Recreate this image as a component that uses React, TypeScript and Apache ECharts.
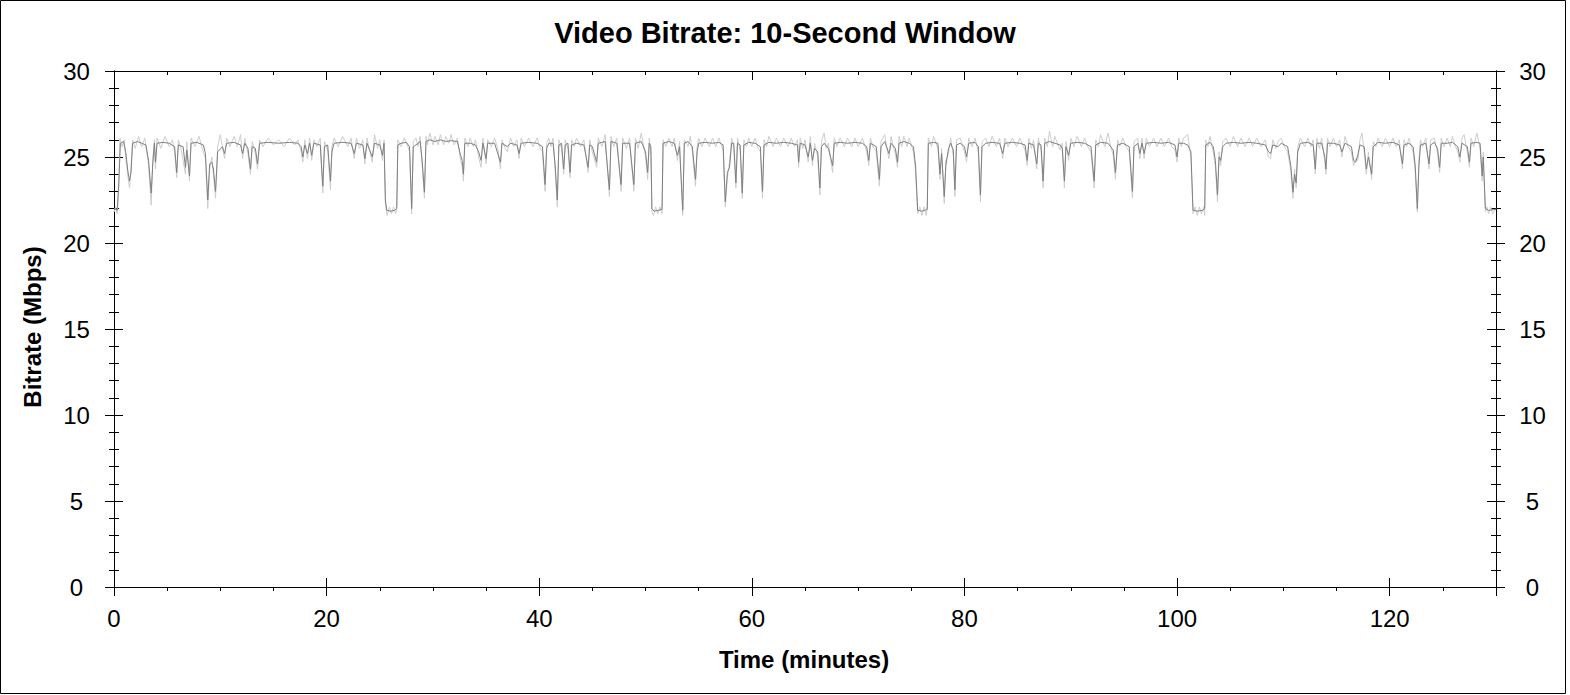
import React, { useEffect, useRef } from "react";
import * as echarts from "echarts";

// Time (minutes), bitrate (Mbps) – smoothed trace
const smoothPts: [number, number][] = [
  [0, 22.0], [0.3, 21.9], [0.45, 23.5], [0.6, 25.8], [0.9, 25.9], [1.1, 25.3], [1.3, 24.2], [1.46, 23.6], [1.6, 24.1], [1.75, 25.8],
  [2.2, 25.9], [2.6, 25.8], [3.0, 25.7], [3.25, 24.8], [3.5, 22.9], [3.65, 24.6], [3.8, 25.8], [3.9, 24.7], [4.05, 25.8], [4.6, 25.85],
  [5.2, 25.8], [5.7, 25.6], [5.9, 24.1], [6.05, 25.7], [6.5, 25.6], [6.72, 24.4], [6.85, 25.4], [7.1, 23.9], [7.25, 25.8], [7.8, 25.85],
  [8.4, 25.7], [8.6, 25.2], [8.82, 22.5], [9.0, 24.6], [9.2, 24.7], [9.35, 24.3], [9.55, 23.0], [9.75, 25.3], [10.2, 25.6], [10.4, 25.2],
  [10.6, 25.8], [11.3, 25.85], [11.9, 25.7], [12.1, 25.2], [12.3, 25.8], [12.6, 25.5], [12.84, 24.3], [13.0, 25.6], [13.3, 25.5], [13.5, 24.6],
  [13.7, 25.8], [14.5, 25.85], [15.5, 25.8], [16.5, 25.85], [17.3, 25.8], [17.6, 25.6], [17.76, 25.0], [17.95, 25.7], [18.2, 25.2], [18.4, 25.8],
  [18.6, 25.1], [18.8, 25.8], [19.4, 25.7], [19.64, 23.3], [19.8, 25.6], [20.1, 25.7], [20.36, 23.6], [20.5, 25.3], [20.7, 25.8], [21.5, 25.85],
  [22.3, 25.8], [22.6, 25.2], [22.8, 25.8], [23.4, 25.7], [23.6, 24.9], [23.8, 25.8], [24.3, 25.0], [24.5, 25.8], [25.0, 25.7], [25.25, 25.1],
  [25.4, 25.8], [25.53, 22.5], [25.66, 21.9], [26.0, 21.85], [26.4, 21.9], [26.6, 22.0], [26.7, 25.7], [27.0, 25.8], [27.5, 25.85], [27.8, 25.6],
  [28.0, 22.0], [28.15, 25.6], [28.4, 25.7], [28.8, 25.9], [29.0, 24.7], [29.2, 22.95], [29.35, 25.9], [29.7, 26.0], [30.2, 25.9], [30.7, 26.0],
  [31.2, 25.9], [31.7, 25.95], [32.3, 25.9], [32.6, 25.1], [32.75, 24.8], [32.87, 24.0], [33.0, 25.8], [33.5, 25.8], [34.0, 25.7], [34.3, 25.3],
  [34.53, 24.8], [34.7, 25.8], [35.0, 24.9], [35.15, 25.8], [35.8, 25.8], [36.35, 24.7], [36.5, 25.8], [37.0, 25.6], [37.3, 25.8], [37.9, 25.7],
  [38.1, 25.2], [38.3, 25.8], [39.0, 25.85], [39.8, 25.8], [40.3, 25.6], [40.55, 23.4], [40.7, 25.5], [40.9, 25.8], [41.3, 25.8], [41.5, 24.5],
  [41.7, 22.5], [41.85, 25.7], [42.1, 25.8], [42.3, 24.3], [42.45, 25.7], [42.7, 25.8], [42.9, 24.1], [43.05, 25.7], [43.5, 25.8], [44.2, 25.7],
  [44.6, 24.4], [44.75, 25.7], [45.0, 25.6], [45.4, 24.7], [45.55, 25.8], [46.2, 25.9], [46.6, 23.1], [46.75, 25.9], [47.3, 25.8], [47.7, 23.4],
  [47.85, 25.8], [48.5, 25.8], [48.9, 23.4], [49.05, 25.8], [49.6, 25.9], [50.0, 25.3], [50.2, 24.1], [50.35, 25.8], [50.5, 25.6], [50.6, 22.0],
  [50.8, 21.85], [51.2, 21.9], [51.55, 21.95], [51.65, 25.8], [52.2, 25.9], [52.7, 25.8], [53.0, 25.1], [53.2, 25.6], [53.5, 21.9], [53.65, 25.8],
  [54.0, 25.9], [54.4, 25.6], [54.7, 23.7], [54.85, 25.3], [55.0, 25.8], [55.6, 25.85], [56.3, 25.8], [56.9, 25.85], [57.3, 25.7], [57.5, 22.4],
  [57.7, 24.1], [57.9, 24.4], [58.1, 25.8], [58.3, 25.8], [58.5, 23.5], [58.65, 25.8], [58.9, 25.7], [59.1, 22.9], [59.25, 25.7], [59.7, 25.85],
  [60.3, 25.8], [60.8, 25.6], [61.0, 23.0], [61.15, 25.7], [61.6, 25.85], [62.3, 25.8], [63.0, 25.85], [63.7, 25.8], [64.3, 25.7], [64.4, 24.7],
  [64.55, 25.8], [65.0, 25.7], [65.3, 25.0], [65.5, 25.8], [65.7, 24.8], [65.9, 25.5], [66.2, 25.3], [66.4, 23.2], [66.55, 25.6], [66.8, 25.8],
  [67.2, 25.5], [67.6, 24.5], [67.75, 25.8], [68.3, 25.85], [69.0, 25.8], [69.7, 25.85], [70.4, 25.8], [70.8, 25.6], [71.0, 24.8], [71.15, 25.8],
  [71.7, 25.6], [72.0, 23.7], [72.15, 25.6], [72.5, 25.9], [72.9, 25.2], [73.1, 25.8], [73.5, 25.5], [73.7, 24.7], [73.85, 25.8], [74.3, 25.9],
  [74.8, 25.8], [75.2, 25.6], [75.4, 24.5], [75.6, 21.9], [76.0, 21.85], [76.5, 21.95], [76.6, 25.8], [77.1, 25.85], [77.5, 25.8], [77.7, 24.0],
  [77.85, 25.2], [78.1, 22.7], [78.25, 24.5], [78.5, 25.5], [78.7, 25.8], [78.95, 25.4], [79.1, 23.1], [79.25, 25.7], [79.6, 25.8], [80.0, 25.6],
  [80.2, 25.0], [80.4, 25.8], [81.0, 25.85], [81.3, 25.6], [81.5, 22.8], [81.65, 25.6], [82.0, 25.8], [82.6, 25.85], [83.3, 25.8], [83.6, 25.2],
  [83.8, 25.8], [84.5, 25.85], [85.2, 25.8], [85.7, 25.7], [85.9, 24.8], [86.05, 25.8], [86.5, 25.7], [86.8, 24.6], [86.95, 25.8], [87.2, 25.7],
  [87.4, 23.6], [87.55, 25.8], [88.0, 25.9], [88.5, 25.8], [89.0, 25.7], [89.2, 25.5], [89.4, 23.6], [89.55, 25.6], [89.8, 25.1], [90.0, 25.8],
  [90.6, 25.85], [91.3, 25.8], [91.9, 25.6], [92.2, 23.6], [92.35, 25.7], [92.8, 25.85], [93.5, 25.8], [94.0, 25.4], [94.2, 24.1], [94.4, 25.7],
  [94.9, 25.8], [95.5, 25.6], [95.8, 23.0], [95.95, 25.6], [96.3, 25.8], [96.5, 25.2], [96.7, 25.8], [96.9, 25.2], [97.1, 25.8], [97.8, 25.85],
  [98.5, 25.8], [99.2, 25.85], [99.8, 25.7], [100.0, 25.0], [100.15, 25.8], [100.6, 25.8], [101.0, 25.7], [101.3, 25.3], [101.5, 21.9], [101.9, 21.85],
  [102.4, 21.9], [102.6, 22.0], [102.7, 25.7], [103.1, 25.85], [103.4, 25.6], [103.6, 24.8], [103.8, 22.8], [103.95, 25.0], [104.1, 24.8], [104.3, 25.6],
  [104.6, 25.8], [105.3, 25.85], [106.0, 25.8], [106.8, 25.85], [107.5, 25.8], [108.3, 25.7], [108.6, 25.3], [108.8, 25.2], [109.0, 25.7], [109.5, 25.6],
  [109.8, 25.8], [110.4, 25.6], [110.7, 24.5], [110.9, 22.95], [111.05, 24.0], [111.2, 23.5], [111.35, 25.3], [111.6, 25.8], [112.3, 25.85], [112.8, 25.7],
  [113.0, 24.3], [113.15, 25.8], [113.6, 25.8], [113.9, 25.0], [114.0, 24.3], [114.15, 25.8], [114.7, 25.8], [115.3, 25.7], [115.5, 25.3], [115.8, 25.8],
  [116.4, 25.6], [116.6, 24.8], [116.8, 24.7], [117.0, 25.1], [117.2, 25.7], [117.6, 25.6], [117.8, 24.3], [118.0, 25.0], [118.3, 24.0], [118.45, 25.6],
  [118.9, 25.85], [119.6, 25.8], [120.3, 25.85], [120.9, 25.7], [121.2, 24.6], [121.35, 25.7], [121.8, 25.8], [122.2, 25.6], [122.4, 24.5], [122.6, 22.0],
  [122.75, 24.5], [122.9, 25.7], [123.4, 25.8], [123.7, 24.6], [123.85, 25.7], [124.2, 25.85], [124.5, 25.5], [124.7, 24.4], [124.85, 25.8], [125.4, 25.8],
  [125.9, 25.85], [126.4, 25.6], [126.6, 25.0], [126.8, 25.8], [127.3, 25.6], [127.5, 24.7], [127.65, 25.8], [128.2, 25.85], [128.5, 25.8], [128.7, 23.9],
  [128.8, 25.0], [129.0, 22.0], [129.3, 21.9], [130.0, 21.95],
];

// Time (minutes), bitrate (Mbps) – raw trace (light)
const rawPts: [number, number][] = [
  [0, 21.8], [0.15, 22.1], [0.3, 21.7], [0.45, 23.0], [0.55, 26.1], [0.75, 25.6], [0.95, 26.0], [1.1, 25.0], [1.3, 23.9], [1.46, 23.2],
  [1.6, 24.4], [1.75, 26.0], [2.0, 25.5], [2.3, 26.2], [2.6, 25.6], [2.9, 26.1], [3.25, 24.5], [3.5, 22.2], [3.65, 24.9], [3.8, 26.0],
  [3.9, 24.3], [4.05, 26.1], [4.4, 25.5], [4.8, 26.2], [5.2, 25.6], [5.5, 26.0], [5.7, 25.3], [5.9, 23.8], [6.05, 26.0], [6.3, 25.5],
  [6.72, 24.0], [6.85, 25.9], [7.1, 23.6], [7.25, 26.1], [7.6, 25.6], [8.0, 26.2], [8.3, 25.5], [8.6, 24.9], [8.82, 22.0], [9.0, 24.3],
  [9.2, 25.0], [9.35, 24.0], [9.55, 22.6], [9.75, 25.6], [10.0, 26.3], [10.4, 24.9], [10.6, 26.1], [10.9, 25.6], [11.3, 26.2], [11.6, 25.6],
  [11.9, 26.3], [12.1, 24.9], [12.3, 26.1], [12.6, 25.2], [12.84, 24.0], [13.0, 25.9], [13.3, 25.2], [13.5, 24.3], [13.7, 26.0], [14.0, 25.6],
  [14.5, 26.1], [15.0, 25.7], [15.5, 26.0], [16.0, 25.6], [16.5, 26.1], [17.0, 25.7], [17.3, 26.0], [17.6, 25.3], [17.76, 24.7], [17.95, 26.0],
  [18.2, 24.9], [18.4, 26.1], [18.6, 24.8], [18.8, 26.0], [19.1, 25.6], [19.4, 26.1], [19.64, 22.9], [19.8, 25.9], [20.1, 25.4], [20.36, 23.1],
  [20.5, 25.6], [20.7, 26.1], [21.1, 25.6], [21.5, 26.2], [22.0, 25.6], [22.3, 26.1], [22.6, 24.9], [22.8, 26.1], [23.1, 25.5], [23.4, 26.0],
  [23.6, 24.6], [23.8, 26.1], [24.0, 25.5], [24.3, 24.7], [24.5, 26.3], [24.8, 25.5], [25.0, 26.0], [25.25, 24.8], [25.4, 26.0], [25.53, 22.2],
  [25.7, 21.6], [25.9, 22.1], [26.1, 21.7], [26.3, 22.1], [26.5, 21.7], [26.6, 22.2], [26.7, 26.0], [27.0, 25.6], [27.3, 26.1], [27.6, 25.7],
  [27.8, 25.3], [28.0, 21.7], [28.15, 25.9], [28.4, 26.1], [28.6, 25.6], [28.8, 26.2], [29.0, 24.4], [29.2, 22.6], [29.35, 26.2], [29.5, 25.7],
  [29.7, 26.4], [30.0, 25.7], [30.2, 26.2], [30.5, 25.7], [30.7, 26.3], [31.0, 25.7], [31.2, 26.2], [31.5, 25.8], [31.7, 26.3], [32.0, 25.7],
  [32.3, 26.1], [32.6, 24.8], [32.75, 24.5], [32.87, 23.6], [33.0, 26.1], [33.3, 25.6], [33.5, 26.1], [33.8, 25.6], [34.0, 26.0], [34.3, 25.0],
  [34.53, 24.4], [34.7, 26.1], [35.0, 24.6], [35.15, 26.0], [35.5, 25.6], [35.8, 26.1], [36.1, 25.5], [36.35, 24.3], [36.5, 26.0], [36.8, 25.5],
  [37.0, 25.3], [37.3, 26.1], [37.6, 25.6], [37.9, 26.0], [38.1, 24.9], [38.3, 26.1], [38.6, 25.6], [39.0, 26.1], [39.4, 25.6], [39.8, 26.1],
  [40.1, 25.5], [40.3, 25.3], [40.55, 23.0], [40.7, 25.8], [40.9, 26.1], [41.1, 25.6], [41.3, 26.1], [41.5, 24.2], [41.7, 22.1], [41.85, 26.0],
  [42.1, 25.5], [42.3, 24.0], [42.45, 26.0], [42.7, 25.5], [42.9, 23.8], [43.05, 26.0], [43.3, 25.6], [43.5, 26.1], [43.9, 25.6], [44.2, 26.0],
  [44.6, 24.1], [44.75, 26.0], [45.0, 25.3], [45.4, 24.4], [45.55, 26.1], [45.9, 25.6], [46.2, 26.3], [46.6, 22.7], [46.75, 26.2], [47.0, 25.6],
  [47.3, 26.1], [47.7, 23.0], [47.85, 26.1], [48.2, 25.5], [48.5, 26.1], [48.9, 23.0], [49.05, 26.1], [49.3, 25.5], [49.6, 26.4], [50.0, 25.0],
  [50.2, 23.7], [50.35, 26.1], [50.5, 25.3], [50.6, 21.8], [50.75, 21.6], [50.95, 22.1], [51.15, 21.7], [51.35, 22.1], [51.55, 21.7], [51.65, 26.0],
  [51.9, 25.6], [52.2, 26.1], [52.5, 25.6], [52.7, 26.1], [53.0, 24.8], [53.2, 25.9], [53.5, 21.6], [53.65, 26.0], [54.0, 25.6], [54.2, 26.2],
  [54.4, 25.3], [54.7, 23.3], [54.85, 25.6], [55.0, 26.1], [55.3, 25.6], [55.6, 26.1], [56.0, 25.6], [56.3, 26.1], [56.6, 25.6], [56.9, 26.1],
  [57.3, 25.4], [57.5, 22.1], [57.7, 23.8], [57.9, 24.7], [58.1, 26.1], [58.3, 25.5], [58.5, 23.2], [58.65, 26.1], [58.9, 25.4], [59.1, 22.6],
  [59.25, 26.0], [59.5, 25.6], [59.7, 26.1], [60.0, 25.6], [60.3, 26.1], [60.6, 25.5], [60.8, 25.3], [61.0, 22.6], [61.15, 26.0], [61.4, 25.6],
  [61.6, 26.2], [62.0, 25.6], [62.3, 26.1], [62.7, 25.6], [63.0, 26.1], [63.4, 25.6], [63.7, 26.1], [64.0, 25.6], [64.3, 26.0], [64.4, 24.4],
  [64.55, 26.1], [64.8, 25.5], [65.0, 26.0], [65.3, 24.7], [65.5, 26.2], [65.7, 24.5], [65.9, 25.8], [66.2, 25.0], [66.4, 22.8], [66.55, 25.9],
  [66.8, 26.4], [67.0, 25.5], [67.2, 25.8], [67.6, 24.1], [67.75, 26.1], [68.0, 25.6], [68.3, 26.1], [68.7, 25.6], [69.0, 26.1], [69.4, 25.6],
  [69.7, 26.1], [70.0, 25.6], [70.4, 26.1], [70.8, 25.3], [71.0, 24.5], [71.15, 26.1], [71.4, 25.6], [71.7, 25.3], [72.0, 23.3], [72.15, 25.9],
  [72.5, 26.3], [72.7, 25.5], [72.9, 24.9], [73.1, 26.2], [73.3, 25.6], [73.5, 25.2], [73.7, 24.4], [73.85, 26.2], [74.1, 25.6], [74.3, 26.2],
  [74.6, 25.6], [74.8, 26.1], [75.2, 25.3], [75.4, 24.2], [75.6, 21.7], [75.8, 22.1], [76.0, 21.6], [76.2, 22.1], [76.4, 21.6], [76.5, 22.1],
  [76.6, 26.1], [76.9, 25.6], [77.1, 26.2], [77.5, 25.5], [77.7, 23.7], [77.85, 25.5], [78.1, 22.3], [78.25, 24.8], [78.5, 25.2], [78.7, 26.1],
  [78.95, 25.1], [79.1, 22.7], [79.25, 26.0], [79.6, 26.1], [80.0, 25.3], [80.2, 24.7], [80.4, 26.1], [80.7, 25.6], [81.0, 26.1], [81.3, 25.3],
  [81.5, 22.4], [81.65, 25.9], [82.0, 26.1], [82.3, 25.6], [82.6, 26.2], [83.0, 25.6], [83.3, 26.1], [83.6, 24.9], [83.8, 26.1], [84.1, 25.6],
  [84.5, 26.1], [84.9, 25.6], [85.2, 26.1], [85.7, 25.4], [85.9, 24.5], [86.05, 26.1], [86.3, 25.5], [86.5, 26.0], [86.8, 24.3], [86.95, 26.1],
  [87.2, 25.4], [87.4, 23.2], [87.55, 26.1], [87.8, 25.6], [88.0, 26.5], [88.3, 25.6], [88.5, 26.2], [89.0, 25.4], [89.2, 25.8], [89.4, 23.2],
  [89.55, 25.9], [89.8, 24.8], [90.0, 26.1], [90.3, 25.6], [90.6, 26.2], [91.0, 25.6], [91.3, 26.1], [91.6, 25.6], [91.9, 25.3], [92.2, 23.2],
  [92.35, 26.0], [92.6, 25.6], [92.8, 26.3], [93.2, 25.6], [93.5, 26.4], [93.8, 25.5], [94.0, 25.1], [94.2, 23.7], [94.4, 26.0], [94.6, 25.6],
  [94.9, 26.1], [95.2, 25.6], [95.5, 25.3], [95.8, 22.6], [95.95, 25.9], [96.3, 26.1], [96.5, 24.9], [96.7, 26.1], [96.9, 24.9], [97.1, 26.1],
  [97.4, 25.6], [97.8, 26.1], [98.1, 25.6], [98.5, 26.1], [98.8, 25.6], [99.2, 26.1], [99.5, 25.6], [99.8, 25.4], [100.0, 24.7], [100.15, 26.1],
  [100.4, 25.6], [100.6, 26.1], [101.0, 26.3], [101.3, 25.0], [101.5, 21.7], [101.7, 22.1], [101.9, 21.6], [102.1, 22.1], [102.3, 21.7], [102.5, 22.1],
  [102.6, 21.6], [102.7, 26.0], [102.9, 25.6], [103.1, 26.2], [103.4, 25.3], [103.6, 24.5], [103.8, 22.4], [103.95, 25.3], [104.1, 24.5], [104.3, 25.9],
  [104.6, 26.1], [105.0, 25.6], [105.3, 26.2], [105.7, 25.6], [106.0, 26.1], [106.4, 25.6], [106.8, 26.1], [107.1, 25.6], [107.5, 26.1], [107.9, 25.6],
  [108.3, 26.0], [108.6, 25.0], [108.8, 24.9], [109.0, 26.0], [109.3, 25.5], [109.5, 25.9], [109.8, 26.1], [110.1, 25.6], [110.4, 25.3], [110.7, 24.2],
  [110.9, 22.6], [111.05, 24.3], [111.2, 23.2], [111.35, 25.6], [111.6, 26.1], [112.0, 25.6], [112.3, 26.1], [112.6, 25.6], [112.8, 26.0], [113.0, 24.0],
  [113.15, 26.1], [113.4, 25.5], [113.6, 26.1], [113.9, 24.7], [114.0, 24.0], [114.15, 26.1], [114.4, 25.6], [114.7, 26.1], [115.0, 25.6], [115.3, 26.0],
  [115.5, 25.0], [115.8, 26.2], [116.1, 25.6], [116.4, 25.3], [116.6, 24.5], [116.8, 24.9], [117.0, 24.8], [117.2, 26.0], [117.4, 26.4], [117.6, 25.3],
  [117.8, 24.0], [118.0, 25.3], [118.3, 23.7], [118.45, 25.9], [118.7, 25.6], [118.9, 26.1], [119.3, 25.6], [119.6, 26.1], [120.0, 25.6], [120.3, 26.1],
  [120.6, 25.6], [120.9, 26.0], [121.2, 24.3], [121.35, 26.0], [121.6, 25.6], [121.8, 26.1], [122.2, 25.3], [122.4, 24.2], [122.6, 21.8], [122.75, 24.8],
  [122.9, 26.0], [123.1, 25.6], [123.4, 26.1], [123.7, 24.3], [123.85, 26.0], [124.2, 26.1], [124.5, 25.2], [124.7, 24.1], [124.85, 26.1], [125.1, 25.6],
  [125.4, 26.1], [125.7, 25.6], [125.9, 26.2], [126.2, 25.6], [126.4, 25.3], [126.6, 24.7], [126.8, 26.1], [127.0, 26.3], [127.3, 25.3], [127.5, 24.4],
  [127.65, 26.1], [127.9, 25.6], [128.2, 26.4], [128.5, 25.5], [128.7, 23.6], [128.8, 25.3], [129.0, 21.8], [129.15, 22.1], [129.3, 21.7], [129.5, 22.1],
  [129.7, 21.7], [130.0, 22.0],
];

const titleText = "Video Bitrate: 10-Second Window";
const xName = "Time (minutes)";
const yName = "Bitrate (Mbps)";
const xMin = 0, xMax = 130, xStep = 20, xMinorSplit = 4;
const yMin = 0, yMax = 30, yStep = 5, yMinorSplit = 5;

const FONT = "'Liberation Sans', Arial, sans-serif";

export default function App() {
  const ref = useRef<HTMLDivElement>(null);
  useEffect(() => {
    if (!ref.current) return;
    const chart = echarts.init(ref.current, undefined, { renderer: "svg" });
    const black = { color: "#000", width: 1 };
    const baseX = (pos: string, inside: boolean, labels: boolean, minor: boolean, len: number, mlen: number) => ({
      type: "value",
      position: pos,
      min: xMin,
      max: xMax,
      interval: xStep,
      gridIndex: 0,
      axisLine: { show: true, onZero: false, lineStyle: black },
      axisTick: { show: true, inside, length: len, lineStyle: black },
      minorTick: { show: minor, splitNumber: xMinorSplit, length: mlen, lineStyle: black },
      splitLine: { show: false },
      minorSplitLine: { show: false },
      axisLabel: {
        show: labels,
        fontSize: 24,
        color: "#000",
        fontFamily: FONT,
        margin: 31,
        verticalAlign: "middle",
        showMaxLabel: false,
      },
    });
    const baseY = (pos: string, inside: boolean, labels: boolean, margin: number) => ({
      type: "value",
      position: pos,
      min: yMin,
      max: yMax,
      interval: yStep,
      gridIndex: 0,
      axisLine: { show: true, onZero: false, lineStyle: black },
      axisTick: { show: true, inside, length: 9, lineStyle: black },
      minorTick: { show: true, splitNumber: yMinorSplit, length: 5, lineStyle: black },
      splitLine: { show: false },
      minorSplitLine: { show: false },
      axisLabel: {
        show: labels,
        fontSize: 24,
        color: "#000",
        fontFamily: FONT,
        margin,
        align: "center",
      },
    });
    chart.setOption({
      animation: false,
      backgroundColor: "#fff",
      grid: { left: 114, top: 71, width: 1382, height: 516, containLabel: false },
      xAxis: [
        baseX("bottom", false, true, true, 9, 4),
        baseX("bottom", true, false, false, 9, 4),
        baseX("top", true, false, true, 9, 4),
      ],
      yAxis: [
        baseY("left", false, true, 37.5),
        baseY("left", true, false, 8),
        baseY("right", false, true, 36.5),
        baseY("right", true, false, 8),
      ],
      graphic: [
        {
          type: "rect",
          silent: true,
          shape: { x: 0.5, y: 0.5, width: 1565, height: 693 },
          style: { fill: "none", stroke: "#000", lineWidth: 1 },
        },
        {
          type: "text",
          silent: true,
          x: 785,
          y: 33,
          style: {
            text: titleText,
            font: `bold 29px ${FONT}`,
            fill: "#000",
            align: "center",
            verticalAlign: "middle",
          },
        },
        {
          type: "text",
          silent: true,
          x: 804,
          y: 659,
          style: {
            text: xName,
            font: `bold 24px ${FONT}`,
            fill: "#000",
            align: "center",
            verticalAlign: "middle",
          },
        },
        {
          type: "text",
          silent: true,
          x: 32,
          y: 327,
          rotation: Math.PI / 2,
          style: {
            text: yName,
            font: `bold 24px ${FONT}`,
            fill: "#000",
            align: "center",
            verticalAlign: "middle",
          },
        },
      ],
      series: [
        {
          type: "line",
          name: "raw",
          xAxisIndex: 0,
          yAxisIndex: 0,
          data: rawPts,
          symbol: "none",
          showSymbol: false,
          lineStyle: { color: "#cdcdcd", width: 1 },
          z: 2,
        },
        {
          type: "line",
          name: "smooth",
          xAxisIndex: 0,
          yAxisIndex: 0,
          data: smoothPts,
          symbol: "none",
          showSymbol: false,
          lineStyle: { color: "#7f7f7f", width: 1 },
          z: 3,
        },
      ],
    });
    return () => chart.dispose();
  }, []);
  return (
    <div
      ref={ref}
      style={{ position: "fixed", left: 0, top: 0, width: 1570, height: 695, background: "#fff" }}
    />
  );
}
